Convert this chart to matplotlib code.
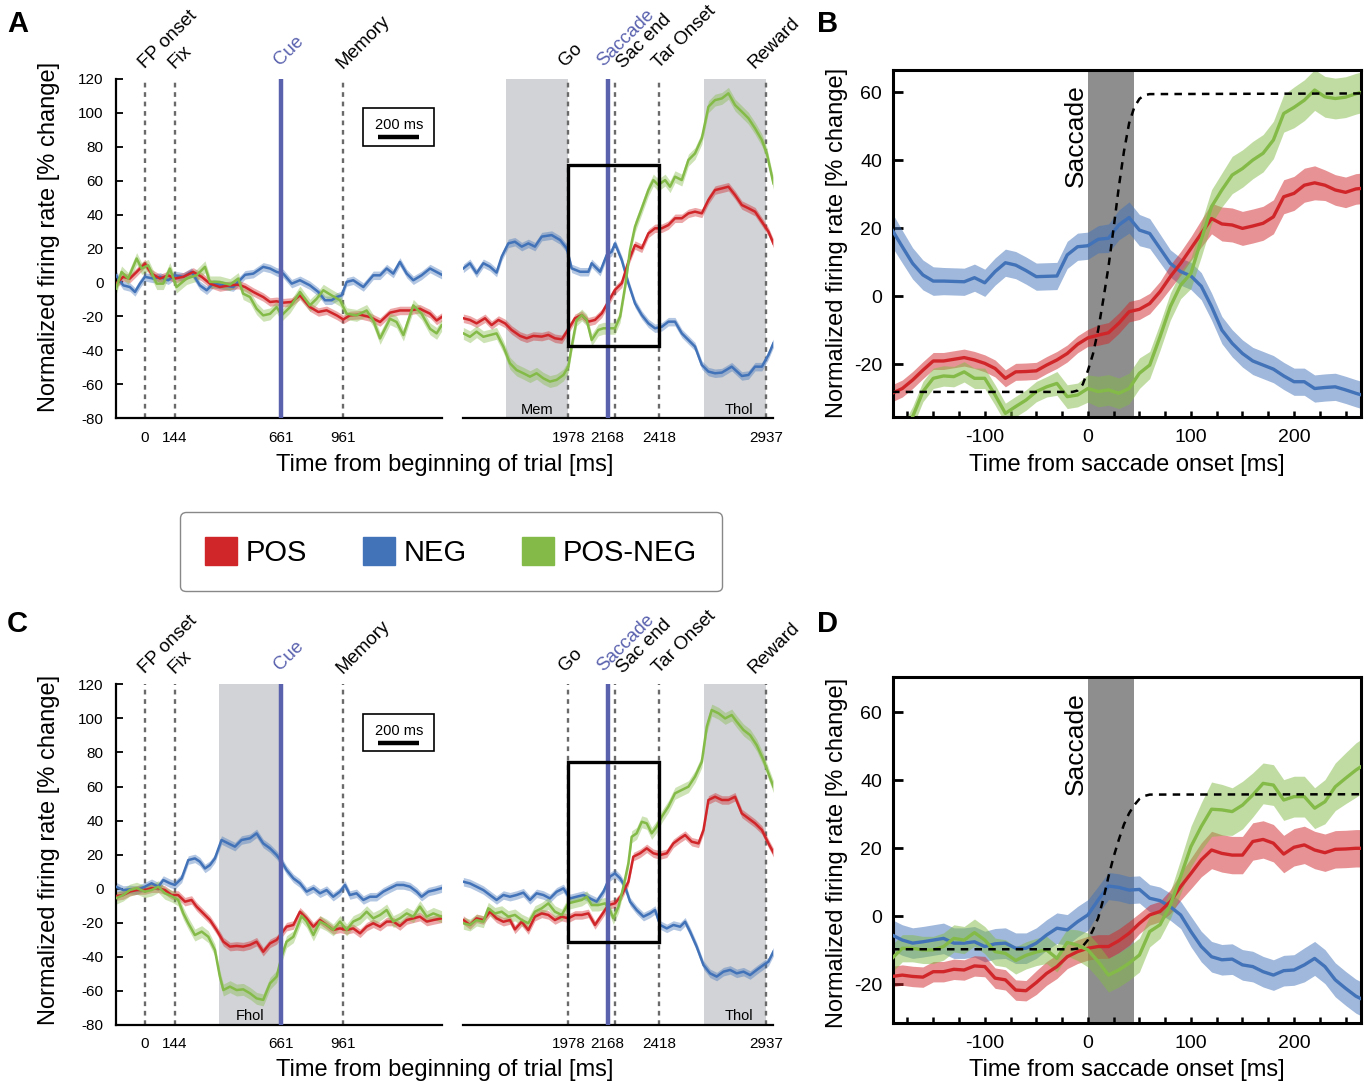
import matplotlib.pyplot as plt
import numpy as np
from matplotlib.patches import Patch, Rectangle

plt.rcParams['font.family'] = ['Liberation Sans', 'DejaVu Sans']
plt.rcParams['axes.unicode_minus'] = False

RED = '#d0262a'
BLUE = '#4272b8'
GREEN = '#84bb48'
EVENT_BLUE = '#5a62ae'
HOLD_GRAY = '#d1d3d6'
EVENT_GRAY = '#6a6a6a'

# task events, ms from beginning of trial
pre_events = [0, 144, 661, 961]
pre_names = ['FP onset', 'Fix', 'Cue', 'Memory']
post_events = [1978, 2168, 2205, 2418, 2937]
post_names = ['Go', 'Saccade', 'Sac end', 'Tar Onset', 'Reward']
pre_ticks = [0, 144, 661, 961]
post_ticks = [1978, 2168, 2418, 2937]
cue_time = 661
saccade_time = 2168

fhol = (358, 661)
mem = (1676, 1978)
thol = (2636, 2937)

# ---- population activity, aligned to trial start / saccade (A) ----
a_pre_neg = [(-140, 4.2), (-105, -1.7), (-73, -2.7), (-48, -5.6), (-24, -0.7), (0, 3.3), (40, 2.3),
             (73, 3.3), (113, 1.3), (145, 4.2), (186, 3.3), (226, 6.2), (266, -1.7), (299, -4.6),
             (331, -0.7), (380, -1.7), (428, -2.7), (460, 1.3), (485, 4.5), (525, 5.2), (573, 9.2),
             (606, 8.2), (638, 6.2), (670, 5.2), (711, -0.7), (751, 1.3), (799, -1.7), (840, -5.6),
             (872, -10.5), (904, -10.5), (929, -8.6), (953, -7.6), (977, 0.3), (1009, 1.3),
             (1058, -2.7), (1106, 4.2), (1139, 4.2), (1171, 8.2), (1203, 5.2), (1235, 12.1),
             (1268, 5.2), (1300, 1.3), (1340, 4.2), (1381, 8.2), (1437, 4.6)]
a_pre_pos = [(-140, -0.7), (-105, 3.3), (-73, 2.3), (-40, 6.2), (0, 11.1), (32, 5.2), (73, 2.3),
             (113, 4.2), (145, 2.3), (186, 3.3), (234, 6.2), (275, 3.3), (315, -0.7), (363, -2.7),
             (412, -1.7), (452, -1.3), (485, -2.7), (525, -5.6), (573, -8.6), (606, -11.5),
             (638, -11.1), (670, -11.9), (711, -11.5), (751, -7.6), (799, -14.5), (840, -17.4),
             (880, -16.4), (929, -19.4), (961, -21.8), (993, -19.4), (1042, -19.0), (1090, -20.4),
             (1139, -23.3), (1187, -17.8), (1235, -16.5), (1284, -16.5), (1332, -15.5),
             (1381, -18.4), (1413, -22.4), (1437, -20.4)]
a_pre_diff = [(-140, -3.6), (-113, 6.2), (-81, 2.3), (-40, 14.1), (-16, 8.2), (16, 10.1), (57, -0.7),
              (89, -0.7), (121, 8.2), (153, -2.7), (202, 2.3), (250, 4.2), (291, 9.2), (315, 0.3),
              (363, 0.3), (412, -1.3), (452, 2.3), (476, -6.6), (509, -8.6), (541, -15.5),
              (573, -19.4), (606, -18.5), (638, -14.5), (662, -19.4), (703, -14.5), (751, -5.6),
              (799, -13.5), (832, -9.6), (864, -4.6), (904, -7.6), (945, -10.5), (977, -18.4),
              (1025, -19.4), (1074, -16.5), (1106, -22.4), (1139, -33.0), (1187, -21.4),
              (1219, -23.3), (1252, -31.0), (1300, -13.5), (1340, -18.4), (1381, -27.3),
              (1413, -30.0), (1437, -25.3)]

a_post_neg = [(1469, 8.3), (1501, 11.3), (1533, 5.4), (1566, 11.3), (1598, 9.3), (1630, 5.8),
              (1655, 15.2), (1687, 23.0), (1719, 24.0), (1752, 21.1), (1784, 23.0), (1816, 21.1),
              (1849, 27.0), (1897, 27.9), (1938, 25.0), (1970, 20.1), (1994, 8.3), (2035, 6.3),
              (2075, 6.3), (2091, 11.3), (2132, 6.3), (2164, 16.2), (2188, 18.1), (2204, 23.0),
              (2237, 13.2), (2269, -0.5), (2301, -12.3), (2334, -19.2), (2366, -24.1), (2398, -27.0),
              (2431, -26.1), (2463, -23.1), (2495, -23.1), (2528, -30.0), (2560, -33.9),
              (2592, -37.8), (2625, -48.6), (2657, -52.5), (2689, -53.5), (2722, -53.1),
              (2770, -49.6), (2819, -55.1), (2851, -54.5), (2883, -49.6), (2916, -49.6),
              (2948, -42.7), (2972, -35.8)]
a_post_pos = [(1469, -21.1), (1501, -22.1), (1533, -24.1), (1574, -21.1), (1606, -25.1),
              (1639, -22.1), (1671, -24.1), (1703, -28.0), (1744, -31.5), (1776, -32.9),
              (1808, -31.5), (1849, -31.9), (1881, -30.9), (1913, -32.9), (1946, -33.5),
              (1978, -27.6), (2010, -21.1), (2043, -19.2), (2075, -23.1), (2107, -22.1),
              (2140, -18.2), (2172, -11.3), (2204, -4.4), (2237, -0.5), (2269, 12.2), (2301, 22.0),
              (2334, 20.1), (2366, 28.9), (2398, 31.9), (2431, 31.9), (2463, 33.8), (2495, 37.8),
              (2528, 37.8), (2560, 40.7), (2592, 41.7), (2625, 40.7), (2657, 48.6), (2689, 54.4),
              (2722, 55.4), (2754, 56.4), (2786, 51.5), (2819, 45.6), (2851, 43.7), (2883, 41.7),
              (2916, 35.8), (2948, 29.9), (2972, 23.0)]
a_post_diff = [(1469, -30.0), (1501, -32.0), (1533, -29.0), (1566, -32.0), (1598, -31.0),
               (1630, -30.0), (1663, -37.8), (1695, -47.6), (1727, -51.6), (1760, -53.5),
               (1792, -55.5), (1824, -53.5), (1857, -56.5), (1889, -58.4), (1921, -57.4),
               (1954, -54.5), (1978, -49.6), (1994, -37.8), (2018, -22.1), (2043, -19.2),
               (2067, -22.1), (2091, -33.9), (2123, -28.0), (2148, -27.0), (2172, -27.0),
               (2204, -27.0), (2229, -20.1), (2253, -2.5), (2277, 19.1), (2301, 32.8), (2334, 43.7),
               (2366, 54.4), (2390, 60.3), (2414, 57.4), (2447, 60.3), (2471, 56.4), (2495, 62.3),
               (2528, 60.3), (2560, 72.1), (2592, 76.0), (2625, 84.9), (2657, 103.5),
               (2689, 107.4), (2722, 108.4), (2754, 111.4), (2786, 104.5), (2819, 100.6),
               (2851, 96.7), (2883, 90.8), (2916, 83.9), (2940, 76.0), (2972, 58.4)]

# ---- population activity (C) ----
c_pre_neg = [(-140, 1.2), (-105, -0.8), (-73, -0.4), (-40, -0.8), (0, 1.2), (32, 3.2), (65, 1.2),
             (89, 5.1), (121, 3.2), (145, 2.2), (178, 6.1), (210, 16.8), (242, 17.8), (266, 15.9),
             (291, 11.9), (315, 13.9), (339, 17.8), (371, 28.6), (404, 26.6), (436, 24.7),
             (468, 28.6), (509, 29.6), (541, 32.5), (573, 26.6), (606, 23.7), (638, 19.8),
             (662, 15.9), (686, 11.0), (719, 6.1), (751, 3.2), (783, -1.7), (816, 0.3), (848, -2.7),
             (880, -0.8), (912, -4.7), (945, -1.7), (969, 2.2), (993, -3.7), (1025, -2.7),
             (1058, -6.6), (1090, -4.7), (1122, -4.7), (1155, -1.7), (1187, 0.3), (1219, 2.2),
             (1252, 2.2), (1284, 1.2), (1316, -1.7), (1340, -4.7), (1373, -1.7), (1405, -0.8),
             (1437, 0.3)]
c_pre_pos = [(-140, -4.3), (-105, -3.7), (-73, -1.7), (-40, -0.8), (0, -0.8), (32, 0.3), (65, 0.3),
             (97, -0.8), (129, -3.7), (161, -3.7), (194, -7.6), (226, -6.6), (250, -10.5),
             (283, -14.5), (315, -18.4), (347, -24.2), (380, -31.1), (412, -34.0), (444, -33.6),
             (476, -34.0), (509, -33.0), (541, -31.1), (573, -37.0), (606, -32.1), (638, -30.1),
             (662, -26.2), (686, -22.3), (719, -21.3), (751, -13.5), (783, -17.4), (816, -22.3),
             (848, -18.4), (880, -21.3), (912, -24.2), (945, -23.3), (977, -24.2), (1009, -23.3),
             (1042, -26.2), (1074, -22.3), (1106, -20.3), (1139, -22.3), (1171, -19.3),
             (1203, -19.3), (1235, -21.9), (1268, -18.4), (1300, -17.4), (1332, -16.4),
             (1365, -19.3), (1397, -18.4), (1437, -17.4)]
c_pre_diff = [(-140, -5.6), (-105, -3.7), (-73, -0.8), (-40, 0.3), (0, -1.7), (32, -0.8), (65, 1.2),
              (97, -2.7), (129, -4.3), (161, -6.6), (186, -14.5), (210, -20.3), (242, -27.2),
              (275, -25.2), (307, -28.2), (339, -36.0), (363, -51.6), (380, -59.5), (412, -57.5),
              (444, -59.5), (476, -59.1), (509, -61.4), (541, -64.4), (573, -65.3), (606, -55.6),
              (638, -51.6), (662, -39.9), (686, -31.1), (719, -28.2), (759, -16.0), (783, -19.3),
              (816, -27.2), (848, -19.3), (880, -21.3), (912, -24.2), (945, -19.3), (977, -24.2),
              (1009, -19.3), (1042, -17.4), (1074, -13.5), (1106, -17.4), (1139, -15.4),
              (1171, -12.5), (1203, -19.3), (1235, -17.4), (1268, -14.5), (1300, -16.4),
              (1332, -10.5), (1365, -16.4), (1397, -14.5), (1437, -16.4)]

c_post_neg = [(1469, 4.1), (1501, 3.1), (1533, 1.2), (1566, -0.8), (1598, -3.7), (1630, -6.6),
              (1663, -3.7), (1695, -4.7), (1727, -3.7), (1760, -2.3), (1792, -6.6), (1824, -2.7),
              (1857, -3.7), (1889, -5.7), (1921, -1.8), (1954, 0.2), (1986, -5.7), (2018, -4.7),
              (2051, -3.7), (2083, -5.7), (2115, -7.6), (2148, -1.8), (2180, 7.1), (2204, 9.0),
              (2229, 6.1), (2253, 1.2), (2277, -7.6), (2309, -12.5), (2342, -16.4), (2374, -14.5),
              (2398, -12.5), (2423, -21.3), (2455, -23.3), (2487, -21.3), (2520, -22.3),
              (2544, -19.4), (2568, -25.2), (2600, -34.0), (2633, -44.8), (2665, -49.7),
              (2697, -51.6), (2730, -48.7), (2762, -47.7), (2794, -49.7), (2827, -48.7),
              (2859, -50.7), (2891, -47.7), (2924, -44.8), (2948, -42.8), (2972, -37.0)]
c_post_pos = [(1469, -18.4), (1501, -21.3), (1533, -17.4), (1566, -18.4), (1598, -13.5),
              (1630, -17.4), (1663, -19.4), (1695, -18.4), (1719, -23.9), (1752, -19.4),
              (1784, -24.3), (1816, -16.4), (1849, -14.5), (1881, -15.4), (1913, -18.4),
              (1946, -16.4), (1978, -17.4), (2010, -15.4), (2043, -15.4), (2075, -14.5),
              (2107, -21.3), (2140, -15.4), (2172, -9.6), (2204, -8.6), (2237, -3.7), (2269, 4.1),
              (2293, 18.8), (2326, 20.8), (2358, 23.7), (2390, 20.8), (2423, 19.8), (2455, 20.8),
              (2487, 26.6), (2520, 29.6), (2544, 31.5), (2576, 27.6), (2609, 26.6), (2633, 34.5),
              (2657, 52.1), (2689, 54.0), (2722, 52.1), (2754, 52.1), (2786, 54.0), (2819, 44.2),
              (2851, 41.3), (2883, 38.4), (2916, 34.5), (2948, 26.6), (2972, 21.2)]
c_post_diff = [(1469, -20.3), (1501, -21.3), (1533, -18.4), (1566, -19.4), (1590, -11.5),
               (1622, -14.5), (1655, -13.5), (1687, -16.4), (1719, -15.4), (1752, -18.4),
               (1784, -20.3), (1816, -13.5), (1849, -11.5), (1881, -8.6), (1913, -13.5),
               (1946, -15.4), (1978, -8.6), (2010, -7.6), (2043, -6.6), (2067, -4.7), (2091, -9.6),
               (2123, -9.6), (2156, -8.6), (2180, -12.5), (2196, -17.4), (2221, -10.6), (2245, 1.2),
               (2269, 14.9), (2285, 30.5), (2309, 32.5), (2334, 39.3), (2358, 38.4), (2382, 32.5),
               (2406, 36.4), (2431, 42.3), (2463, 48.2), (2495, 56.0), (2528, 58.0), (2560, 59.9),
               (2592, 65.8), (2625, 74.6), (2649, 95.1), (2673, 104.9), (2706, 103.0),
               (2738, 100.0), (2770, 102.0), (2794, 98.1), (2827, 93.2), (2859, 90.2),
               (2891, 84.3), (2924, 75.6), (2948, 67.7), (2972, 59.9)]

# SEM half-widths for the trial-long traces
sem_pos = 2.5
sem_neg = 2.5
sem_diff = 3.5

# ---- saccade-aligned close-ups (B, D), 10 ms bins ----
t_sac = np.arange(-190, 271, 10)
b_neg = [19.5, 14.5, 9.6, 6.2, 4.4, 4.4, 4.3, 4.2, 5.4, 3.9,
         7.2, 9.8, 9.1, 7.5, 5.7, 5.8, 5.9, 12.1, 14.5, 14.8,
         16.7, 17.0, 20.9, 23.1, 19.4, 18.4, 14.0, 9.6, 7.2, 5.9,
         2.9, -3.1, -10.0, -13.9, -16.9, -19.1, -20.3, -21.5, -23.5, -25.2,
         -25.2, -27.2, -26.9, -26.7, -27.6, -28.6, -29.5]
b_pos = [-28.6, -27.2, -24.7, -21.8, -19.1, -19.1, -18.6, -18.1, -18.8, -19.8,
         -21.3, -24.2, -22.3, -22.2, -22.0, -20.3, -18.8, -16.9, -14.2, -12.3,
         -11.5, -10.8, -8.0, -4.6, -3.9, -2.2, 1.3, 5.7, 9.6, 14.0,
         18.4, 22.8, 21.2, 20.9, 19.9, 20.6, 21.4, 23.3, 29.2, 30.2,
         32.6, 33.3, 32.6, 31.2, 30.5, 31.5, 31.8]
b_diff = [-46.0, -41.0, -35.5, -28.1, -24.2, -23.5, -23.7, -22.3, -24.2, -24.2,
          -29.1, -34.5, -32.5, -30.6, -28.1, -26.7, -25.7, -29.6, -29.1, -27.2,
          -28.1, -27.6, -28.6, -27.2, -22.7, -20.3, -12.0, -3.1, 3.2, 6.7,
          16.5, 26.3, 31.2, 35.6, 37.5, 40.0, 42.0, 45.9, 53.7, 55.5,
          57.6, 60.6, 58.6, 58.1, 58.5, 59.5, 60.3]
b_neg_sem = [5.0, 4.8, 4.6, 4.4, 4.2, 4.0, 4.0, 4.0, 4.0, 4.0,
             4.0, 4.0, 4.0, 4.0, 4.0, 4.0, 4.0, 4.0, 4.0, 4.0,
             4.0, 4.2, 4.4, 4.6, 4.6, 4.4, 4.2, 4.0, 4.0, 4.0,
             4.0, 4.0, 4.0, 4.0, 4.0, 4.0, 4.0, 4.0, 4.0, 4.0,
             4.0, 4.0, 4.0, 4.0, 4.0, 4.0, 4.0]
b_pos_sem = [2.5, 2.5, 2.5, 2.5, 2.5, 2.5, 2.5, 2.5, 2.5, 2.5,
             2.5, 2.5, 2.5, 2.5, 2.5, 2.5, 2.5, 2.5, 2.5, 2.5,
             3.0, 3.0, 3.0, 3.0, 3.0, 3.0, 3.0, 3.5, 3.5, 3.5,
             4.0, 4.5, 5.0, 5.0, 5.0, 5.0, 5.0, 5.0, 5.0, 5.0,
             5.0, 5.0, 4.5, 4.5, 4.5, 4.5, 4.5]
b_diff_sem = [3.0, 3.0, 3.0, 3.0, 3.0, 3.0, 3.0, 3.0, 3.0, 3.0,
              3.0, 3.0, 3.0, 3.0, 3.0, 3.0, 3.5, 3.5, 3.5, 4.0,
              4.5, 4.5, 4.5, 4.5, 4.5, 4.0, 4.0, 4.0, 4.0, 4.5,
              5.0, 5.0, 5.0, 5.5, 5.5, 5.5, 5.5, 5.5, 5.5, 6.0,
              6.0, 6.0, 6.0, 6.0, 6.0, 6.0, 6.0]

d_neg = [-5.5, -7.0, -7.9, -7.5, -7.0, -6.5, -7.9, -7.9, -7.5, -8.9,
         -8.1, -7.9, -9.4, -9.4, -7.9, -5.5, -3.5, -4.0, -1.6, 0.4,
         4.8, 8.9, 8.5, 7.7, 7.9, 5.3, 4.6, 2.8, 0.4, -4.5,
         -8.9, -11.9, -12.8, -12.6, -14.3, -14.8, -16.3, -17.3, -16.0, -15.8,
         -14.3, -12.4, -14.8, -18.7, -21.2, -23.5, -25.0]
d_pos = [-17.7, -17.3, -17.7, -17.9, -16.3, -16.3, -15.6, -15.8, -14.6, -14.8,
         -18.2, -18.7, -21.7, -21.9, -19.5, -16.8, -14.8, -11.9, -10.4, -9.4,
         -8.9, -8.9, -7.2, -5.0, -2.1, 0.4, 1.4, 4.3, 8.7, 12.6,
         16.6, 19.5, 18.5, 18.0, 18.0, 22.0, 22.6, 21.5, 18.3, 20.3,
         21.0, 19.5, 18.7, 19.7, 19.8, 20.0, 20.0]
d_diff = [-12.4, -9.4, -9.4, -9.9, -9.9, -8.9, -6.5, -7.0, -4.8, -7.0,
          -10.4, -10.9, -13.0, -11.5, -10.5, -9.9, -12.4, -7.7, -8.5, -9.9,
          -13.3, -17.3, -15.8, -13.8, -11.4, -4.5, -2.5, 3.3, 11.7, 20.5,
          26.4, 31.5, 31.3, 30.8, 32.7, 35.7, 39.1, 38.6, 34.2, 35.2,
          35.2, 31.8, 33.7, 38.1, 40.6, 43.0, 45.0]
d_neg_sem = [4.5, 4.5, 4.5, 4.5, 4.5, 4.5, 4.5, 4.5, 4.5, 4.5,
             4.5, 4.5, 4.5, 4.5, 4.5, 4.5, 4.5, 4.5, 4.5, 4.5,
             4.0, 4.0, 4.0, 4.0, 4.0, 4.0, 4.0, 4.0, 4.0, 4.5,
             4.5, 4.5, 4.5, 4.5, 4.5, 4.5, 4.5, 4.5, 4.5, 4.5,
             5.0, 5.0, 5.0, 5.0, 5.0, 5.0, 5.0]
d_pos_sem = [3.0, 3.0, 3.0, 3.0, 3.0, 3.0, 3.0, 3.0, 3.0, 3.0,
             3.0, 3.0, 3.0, 3.0, 3.5, 3.5, 3.5, 3.5, 3.5, 3.5,
             3.5, 3.5, 3.5, 3.5, 3.0, 3.0, 3.0, 3.5, 4.0, 4.5,
             5.0, 5.5, 5.5, 5.5, 5.5, 5.5, 5.5, 5.5, 5.5, 5.5,
             5.5, 5.5, 5.5, 5.5, 5.5, 5.5, 5.5]
d_diff_sem = [4.0, 4.0, 4.0, 4.0, 4.0, 4.0, 4.0, 4.0, 4.0, 4.0,
              4.0, 4.0, 4.0, 4.0, 4.0, 4.0, 4.0, 4.0, 4.5, 5.0,
              5.0, 5.0, 5.0, 5.0, 5.0, 4.5, 4.0, 4.0, 5.0, 6.0,
              7.0, 8.0, 7.5, 7.0, 7.0, 6.5, 6.0, 6.0, 6.0, 6.0,
              6.0, 6.0, 6.5, 7.0, 7.5, 8.0, 8.0]

# eye position trace (scaled), drawn dashed
eye_t = [-190, -15, -10, -5, 0, 5, 10, 15, 20, 25, 30, 35, 40, 45, 50, 55, 60, 270]
eye_b = [-28.2, -28.2, -27.8, -26.0, -22.0, -17.0, -10.0, -1.0, 8.6, 20.0, 32.0, 42.5,
         50.8, 55.5, 58.0, 59.1, 59.4, 59.6]
eye_d = [-9.7, -9.7, -9.5, -8.8, -7.0, -4.0, -0.5, 5.0, 11.7, 17.5, 22.5, 27.0,
         30.3, 32.7, 34.5, 35.4, 35.8, 35.9]
saccade_band = (0, 45)


def trace(ax, pairs, sem, color, lw=1.8, alpha=0.4):
    t, v = np.array(pairs, dtype=float).T
    ax.fill_between(t, v - sem, v + sem, color=color, alpha=alpha, lw=0, zorder=2)
    ax.plot(t, v, color=color, lw=lw, zorder=3)


def event_labels(ax, times, names, offsets):
    for t, name, (dx, dy) in zip(times, names, offsets):
        color = EVENT_BLUE if name in ('Cue', 'Saccade') else 'black'
        ax.annotate(name, xy=(t, 1), xycoords=ax.get_xaxis_transform(),
                    xytext=(dx * 0.72, dy * 0.72), textcoords='offset points',
                    rotation=45, rotation_mode='anchor', ha='left', va='baseline',
                    fontsize=13.5, color=color, annotation_clip=False)


def trial_panel(ax_pre, ax_post, pre, post, rect, hold_pre):
    for ax in (ax_pre, ax_post):
        ax.set_ylim(-80, 120)
        ax.spines['top'].set_visible(False)
        ax.spines['right'].set_visible(False)
        ax.spines['bottom'].set_linewidth(1.6)
        ax.tick_params(axis='x', length=0, pad=9, labelsize=11)
    ax_pre.set_xlim(-140, 1439)
    ax_post.set_xlim(1469, 2969)
    ax_pre.spines['left'].set_linewidth(1.6)
    ax_pre.set_yticks(np.arange(-80, 121, 20))
    ax_pre.tick_params(axis='y', direction='in', length=5, width=1.3, pad=9, labelsize=11)
    ax_post.spines['left'].set_visible(False)
    ax_post.set_yticks([])
    ax_pre.set_xticks(pre_ticks)
    ax_post.set_xticks(post_ticks)

    # hold periods
    if hold_pre:
        ax_pre.axvspan(*fhol, color=HOLD_GRAY, lw=0, zorder=0)
        ax_pre.text(sum(fhol) / 2, -79, 'Fhol', ha='center', va='bottom', fontsize=10.5)
    else:
        ax_post.axvspan(*mem, color=HOLD_GRAY, lw=0, zorder=0)
        ax_post.text(sum(mem) / 2, -79, 'Mem', ha='center', va='bottom', fontsize=10.5)
    ax_post.axvspan(*thol, color=HOLD_GRAY, lw=0, zorder=0)
    ax_post.text(sum(thol) / 2 + 20, -79, 'Thol', ha='center', va='bottom', fontsize=10.5)

    # event markers
    for t in pre_events:
        if t != cue_time:
            ax_pre.axvline(t, color=EVENT_GRAY, lw=1.7, ls=(0, (2, 2)), zorder=1)
    ax_pre.axvline(cue_time, color=EVENT_BLUE, lw=3.2, zorder=4)
    for t in post_events:
        if t != saccade_time:
            ax_post.axvline(t, color=EVENT_GRAY, lw=1.7, ls=(0, (2, 2)), zorder=1)
    ax_post.axvline(saccade_time, color=EVENT_BLUE, lw=3.2, zorder=4)

    event_labels(ax_pre, pre_events, pre_names, [(0, 10), (-0.5, 10), (-1, 13), (-1, 10)])
    event_labels(ax_post, post_events, post_names,
                 [(-3, 12), (-4, 12), (8, 10), (0, 10), (-12, 10)])

    for ax, (pos, neg, diff) in ((ax_pre, pre), (ax_post, post)):
        trace(ax, neg, sem_neg, BLUE)
        trace(ax, pos, sem_pos, RED)
        trace(ax, diff, sem_diff, GREEN)

    # zoomed window shown in the close-up panel
    ax_post.add_patch(Rectangle((rect[0], rect[2]), rect[1] - rect[0], rect[3] - rect[2],
                                fill=False, ec='black', lw=2.4, zorder=6))

    # 200 ms scale bar
    ax_pre.add_patch(Rectangle((1056, 80.6), 344, 22.2, fc='white', ec='black', lw=1.2, zorder=5))
    ax_pre.plot([1130, 1330], [85.7, 85.7], color='black', lw=3.2, solid_capstyle='butt', zorder=6)
    ax_pre.text(1230, 92.5, '200 ms', ha='center', va='center', fontsize=10.5, zorder=6)


def saccade_panel(ax, neg, pos, diff, sems, eye, ylim, text_y):
    ax.set_xlim(-189, 265)
    ax.set_ylim(*ylim)
    for s in ax.spines.values():
        s.set_linewidth(2.2)
    ax.axvspan(*saccade_band, color='#8e8e8e', lw=0, zorder=0)
    t = t_sac
    for vals, sem, color in ((neg, sems[0], BLUE), (pos, sems[1], RED), (diff, sems[2], GREEN)):
        v = np.array(vals)
        s = np.array(sem)
        ax.fill_between(t, v - s, v + s, color=color, alpha=0.5, lw=0, zorder=2)
    for vals, color in ((neg, BLUE), (pos, RED), (diff, GREEN)):
        ax.plot(t, vals, color=color, lw=2.4, zorder=3)
    ax.plot(eye_t, eye, color='black', lw=1.8, ls=(0, (3, 2.5)), zorder=4)
    ax.text(0, text_y, 'Saccade', rotation=90, ha='right', va='bottom', fontsize=19, zorder=5)
    ax.set_xticks([-100, 0, 100, 200])
    ax.set_xticks(np.arange(-175, 251, 25), minor=True)
    ax.set_yticks([-20, 0, 20, 40, 60])
    ax.tick_params(axis='x', which='both', direction='in', length=4, width=1.8, pad=9, labelsize=14)
    ax.tick_params(axis='y', direction='in', length=7, width=2, pad=8, labelsize=14)


fig = plt.figure(figsize=(13.68, 10.83), dpi=100)

axA1 = fig.add_axes([0.0848, 0.6138, 0.2383, 0.3135])
axA2 = fig.add_axes([0.3387, 0.6138, 0.2262, 0.3135])
axB = fig.add_axes([0.6528, 0.6152, 0.3421, 0.3202])
axC1 = fig.add_axes([0.0848, 0.0536, 0.2383, 0.3145])
axC2 = fig.add_axes([0.3387, 0.0536, 0.2262, 0.3145])
axD = fig.add_axes([0.6528, 0.0557, 0.3421, 0.3189])

trial_panel(axA1, axA2, (a_pre_pos, a_pre_neg, a_pre_diff), (a_post_pos, a_post_neg, a_post_diff),
            (1978, 2418, -37.2, 69.2), hold_pre=False)
trial_panel(axC1, axC2, (c_pre_pos, c_pre_neg, c_pre_diff), (c_post_pos, c_post_neg, c_post_diff),
            (1978, 2418, -31.1, 74.2), hold_pre=True)
saccade_panel(axB, b_neg, b_pos, b_diff, (b_neg_sem, b_pos_sem, b_diff_sem), eye_b, (-35.5, 66.5), 32)
saccade_panel(axD, d_neg, d_pos, d_diff, (d_neg_sem, d_pos_sem, d_diff_sem), eye_d, (-31.3, 70.3), 35.6)

ylabel = 'Normalized firing rate [% change]'
fig.text(0.036, 0.781, ylabel, rotation=90, ha='center', va='center', fontsize=17)
fig.text(0.036, 0.215, ylabel, rotation=90, ha='center', va='center', fontsize=17)
fig.text(0.612, 0.7756, ylabel, rotation=90, ha='center', va='center', fontsize=17)
fig.text(0.612, 0.2124, ylabel, rotation=90, ha='center', va='center', fontsize=17)
fig.text(0.3249, 0.5706, 'Time from beginning of trial [ms]', ha='center', va='center', fontsize=17)
fig.text(0.3249, 0.012, 'Time from beginning of trial [ms]', ha='center', va='center', fontsize=17)
fig.text(0.8235, 0.5706, 'Time from saccade onset [ms]', ha='center', va='center', fontsize=17)
fig.text(0.8235, 0.012, 'Time from saccade onset [ms]', ha='center', va='center', fontsize=17)

for letter, x, y in (('A', 0.005, 0.991), ('B', 0.597, 0.991), ('C', 0.005, 0.437), ('D', 0.597, 0.437)):
    fig.text(x, y, letter, ha='left', va='top', fontsize=21, fontweight='bold')

handles = [Patch(color=RED), Patch(color=BLUE), Patch(color=GREEN)]
leg = fig.legend(handles, ['POS', 'NEG', 'POS-NEG'], loc='center', bbox_to_anchor=(0.3297, 0.4906),
                 ncol=3, fontsize=21, handlelength=1.1, handleheight=1.1, handletextpad=0.3,
                 columnspacing=1.9, borderpad=0.85, frameon=True, fancybox=True,
                 edgecolor='#888888', framealpha=1)
leg.get_frame().set_linewidth(1.0)

fig.savefig('out.png', dpi=100)
